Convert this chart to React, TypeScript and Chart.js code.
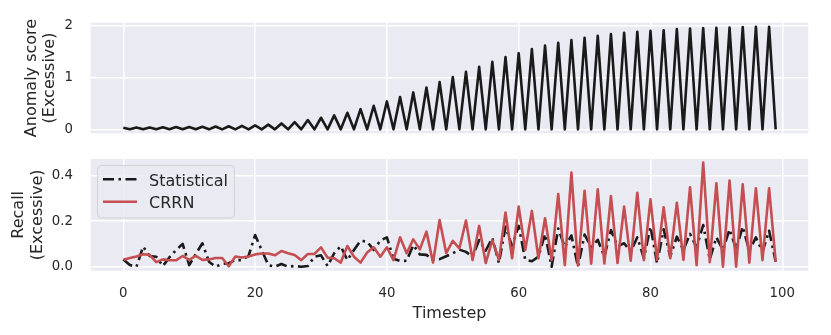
import React, { useEffect, useRef } from 'react';
import { Chart, registerables } from 'chart.js';

Chart.register(...registerables);

const TIMESTEPS = Array.from({ length: 100 }, (_, i) => i);

const ANOMALY = [
  0.03, 0.0, 0.035, 0.0, 0.037, 0.0, 0.04, 0.0, 0.043, 0.0,
  0.046, 0.0, 0.05, 0.0, 0.055, 0.0, 0.06, 0.0, 0.066, 0.0,
  0.075, 0.0, 0.09, 0.0, 0.114, 0.0, 0.14, 0.0, 0.179, 0.0,
  0.224, 0.0, 0.269, 0.0, 0.32, 0.0, 0.391, 0.0, 0.456, 0.0,
  0.54, 0.0, 0.624, 0.0, 0.714, 0.0, 0.81, 0.0, 0.914, 0.0,
  1.01, 0.0, 1.114, 0.0, 1.21, 0.0, 1.307, 0.0, 1.397, 0.0,
  1.474, 0.0, 1.552, 0.0, 1.623, 0.0, 1.674, 0.0, 1.726, 0.0,
  1.771, 0.0, 1.81, 0.0, 1.842, 0.0, 1.868, 0.0, 1.887, 0.0,
  1.907, 0.0, 1.919, 0.0, 1.939, 0.0, 1.952, 0.0, 1.958, 0.0,
  1.965, 0.0, 1.971, 0.0, 1.978, 0.0, 1.984, 0.0, 1.984, 0.0,
];

const STATISTICAL = [
  0.032, 0.007, 0.0, 0.088, 0.047, 0.044, 0.003, 0.041, 0.073, 0.1,
  0.007, 0.056, 0.103, 0.022, 0.0, 0.012, 0.015, 0.029, 0.029, 0.047,
  0.139, 0.073, 0.007, 0.0, 0.012, 0.0, 0.003, 0.0, 0.003, 0.044,
  0.05, 0.003, 0.059, 0.09, 0.029, 0.073, 0.114, 0.11, 0.073, 0.115,
  0.129, 0.035, 0.025, 0.026, 0.095, 0.054, 0.052, 0.03, 0.033, 0.046,
  0.059, 0.075, 0.065, 0.044, 0.117, 0.071, 0.127, 0.016, 0.175, 0.09,
  0.179, 0.03, 0.024, 0.044, 0.143, 0.0, 0.168, 0.086, 0.137, 0.0,
  0.141, 0.086, 0.118, 0.044, 0.161, 0.09, 0.103, 0.066, 0.129, 0.037,
  0.176, 0.015, 0.164, 0.044, 0.132, 0.073, 0.144, 0.085, 0.183, 0.032,
  0.129, 0.073, 0.164, 0.076, 0.176, 0.07, 0.129, 0.066, 0.158, 0.022,
];

const CRRN = [
  0.03, 0.038, 0.045, 0.055, 0.052, 0.02, 0.032, 0.028, 0.028, 0.047,
  0.03, 0.047, 0.03, 0.032, 0.038, 0.038, 0.002, 0.045, 0.04, 0.045,
  0.054, 0.058, 0.058, 0.05, 0.069, 0.059, 0.051, 0.029, 0.056, 0.056,
  0.085, 0.04, 0.037, 0.018, 0.091, 0.044, 0.018, 0.062, 0.085, 0.044,
  0.085, 0.029, 0.129, 0.059, 0.12, 0.076, 0.154, 0.018, 0.205, 0.06,
  0.113, 0.08, 0.203, 0.029, 0.179, 0.016, 0.117, 0.03, 0.238, 0.037,
  0.264, 0.073, 0.245, 0.037, 0.213, 0.029, 0.319, 0.007, 0.413, 0.005,
  0.333, 0.013, 0.34, 0.014, 0.31, 0.016, 0.264, 0.026, 0.325, 0.029,
  0.296, 0.03, 0.261, 0.037, 0.281, 0.03, 0.349, 0.007, 0.457, 0.02,
  0.366, 0.0, 0.378, 0.0, 0.362, 0.018, 0.344, 0.029, 0.344, 0.022,
];

const X_TICKS = [0, 20, 40, 60, 80, 100];
const TOP_Y_TICKS = [0, 1, 2];
const BOTTOM_Y_TICKS = [0, 0.2, 0.4];

const FONT = 'DejaVu Sans';
const TEXT = '#262626';
const BG = '#EAEAF2';
const RED = '#C44E52';
const BLACK = '#1a1a1a';
const STAT_DASH = [11, 4.5, 2.5, 4.5];

Chart.defaults.font.family = FONT;
Chart.defaults.color = TEXT;

const bgPlugin = {
  id: 'axesBg',
  beforeDraw(chart: any) {
    const { ctx, chartArea: a } = chart;
    ctx.save();
    ctx.fillStyle = BG;
    ctx.fillRect(a.left, a.top, a.right - a.left, a.bottom - a.top);
    ctx.restore();
  },
};

const legendPlugin = {
  id: 'boxLegend',
  afterDraw(chart: any) {
    const ctx = chart.ctx;
    const ds = chart.data.datasets;
    ctx.save();
    const x = 97.5, y = 15.5, w = 137, h = 52.5, r = 4;
    ctx.beginPath();
    ctx.moveTo(x + r, y);
    ctx.lineTo(x + w - r, y);
    ctx.quadraticCurveTo(x + w, y, x + w, y + r);
    ctx.lineTo(x + w, y + h - r);
    ctx.quadraticCurveTo(x + w, y + h, x + w - r, y + h);
    ctx.lineTo(x + r, y + h);
    ctx.quadraticCurveTo(x, y + h, x, y + h - r);
    ctx.lineTo(x, y + r);
    ctx.quadraticCurveTo(x, y, x + r, y);
    ctx.closePath();
    ctx.fillStyle = 'rgba(234,234,242,0.85)';
    ctx.fill();
    ctx.strokeStyle = 'rgba(204,204,204,0.8)';
    ctx.lineWidth = 1;
    ctx.stroke();

    const order = [ds.find((d: any) => d.label === 'Statistical'), ds.find((d: any) => d.label === 'CRRN')];
    const rows = [29.3, 51.7];
    const baselines = [36, 58.3];
    order.forEach((d: any, i: number) => {
      ctx.beginPath();
      ctx.setLineDash(d.borderDash || []);
      ctx.lineDashOffset = 0;
      ctx.lineCap = 'butt';
      ctx.strokeStyle = d.borderColor;
      ctx.lineWidth = d.borderWidth;
      ctx.moveTo(103, rows[i]);
      ctx.lineTo(137, rows[i]);
      ctx.stroke();
      ctx.setLineDash([]);
      ctx.font = `16px "${FONT}"`;
      ctx.fillStyle = TEXT;
      ctx.textBaseline = 'alphabetic';
      ctx.textAlign = 'left';
      ctx.fillText(d.label, 149, baselines[i]);
    });
    ctx.restore();
  },
};

const CHART_LEFT = 90.7;
const CHART_RIGHT_PAD = 831 - 808.3;

function xScale(showTicks: boolean, height: number) {
  return {
    type: 'linear' as const,
    min: -4.95,
    max: 103.95,
    afterBuildTicks: (s: any) => {
      s.ticks = X_TICKS.map((v) => ({ value: v }));
    },
    afterFit: (s: any) => {
      s.height = height;
      s.paddingLeft = 0;
      s.paddingRight = 0;
      s.paddingTop = 0;
      s.paddingBottom = 0;
    },
    grid: { color: '#ffffff', lineWidth: 1.5, drawTicks: false },
    border: { display: false },
    ticks: {
      display: showTicks,
      padding: 15.3,
      color: TEXT,
      maxRotation: 0,
      autoSkip: false,
      font: { family: FONT, size: 13.3, lineHeight: 1.2 },
      callback: (v: any) => String(v),
    },
    title: {
      display: showTicks,
      text: 'Timestep',
      color: TEXT,
      font: { family: FONT, size: 16, lineHeight: 1.2 },
      padding: { top: 0, bottom: 11.4 },
    },
  };
}

function yScale(min: number, max: number, ticks: number[], decimals: number, title: string[], titlePad: number) {
  return {
    type: 'linear' as const,
    min,
    max,
    afterBuildTicks: (s: any) => {
      s.ticks = ticks.map((v) => ({ value: v }));
    },
    afterFit: (s: any) => {
      s.width = CHART_LEFT;
      s.paddingLeft = 0;
      s.paddingRight = 0;
      s.paddingTop = 0;
      s.paddingBottom = 0;
    },
    grid: { color: '#ffffff', lineWidth: 1.5, drawTicks: false },
    border: { display: false },
    ticks: {
      padding: 17.7,
      color: TEXT,
      autoSkip: false,
      font: { family: FONT, size: 13.3 },
      callback: (v: any) => Number(v).toFixed(decimals),
    },
    title: {
      display: true,
      text: title,
      color: TEXT,
      font: { family: FONT, size: 16, lineHeight: 1.15 },
      padding: { top: titlePad, bottom: 0 },
    },
  };
}

export default function App() {
  const topRef = useRef<HTMLCanvasElement>(null);
  const botRef = useRef<HTMLCanvasElement>(null);

  useEffect(() => {
    const top = new Chart(topRef.current!, {
      type: 'line',
      data: {
        labels: TIMESTEPS,
        datasets: [
          {
            label: 'Anomaly score',
            data: ANOMALY,
            borderColor: BLACK,
            borderWidth: 2.6,
            pointRadius: 0,
            tension: 0,
            borderJoinStyle: 'round',
            fill: false,
          },
        ],
      },
      options: {
        responsive: false,
        animation: false,
        devicePixelRatio: 1,
        layout: { padding: { left: 0, right: CHART_RIGHT_PAD, top: 22.7, bottom: 0 } },
        plugins: { legend: { display: false }, tooltip: { enabled: false } },
        scales: {
          x: xScale(false, 150 - 133.3) as any,
          y: yScale(-0.077, 2.064, TOP_Y_TICKS, 0, ['Anomaly score', '(Excessive)'], 22.3) as any,
        },
      },
      plugins: [bgPlugin],
    });

    const bot = new Chart(botRef.current!, {
      type: 'line',
      data: {
        labels: TIMESTEPS,
        datasets: [
          {
            label: 'CRRN',
            data: CRRN,
            borderColor: RED,
            borderWidth: 2.6,
            pointRadius: 0,
            tension: 0,
            borderJoinStyle: 'round',
            fill: false,
            order: 0,
          },
          {
            label: 'Statistical',
            data: STATISTICAL,
            borderColor: BLACK,
            borderWidth: 2.6,
            borderDash: STAT_DASH,
            borderCapStyle: 'butt',
            pointRadius: 0,
            tension: 0,
            borderJoinStyle: 'round',
            fill: false,
            order: 1,
          },
        ],
      },
      options: {
        responsive: false,
        animation: false,
        devicePixelRatio: 1,
        layout: { padding: { left: 0, right: CHART_RIGHT_PAD, top: 9, bottom: 0 } },
        plugins: { legend: { display: false }, tooltip: { enabled: false } },
        scales: {
          x: xScale(true, 185 - 120.7) as any,
          y: yScale(-0.0176, 0.473, BOTTOM_Y_TICKS, 1, ['Recall', '(Excessive)'], 9.8) as any,
        },
      },
      plugins: [bgPlugin, legendPlugin],
    });

    return () => {
      top.destroy();
      bot.destroy();
    };
  }, []);

  return (
    <div style={{ position: 'absolute', left: 0, top: 0, width: 831, height: 335, background: '#ffffff' }}>
      <canvas ref={topRef} width={831} height={150} style={{ position: 'absolute', left: 0, top: 0 }} />
      <canvas ref={botRef} width={831} height={185} style={{ position: 'absolute', left: 0, top: 150 }} />
    </div>
  );
}
